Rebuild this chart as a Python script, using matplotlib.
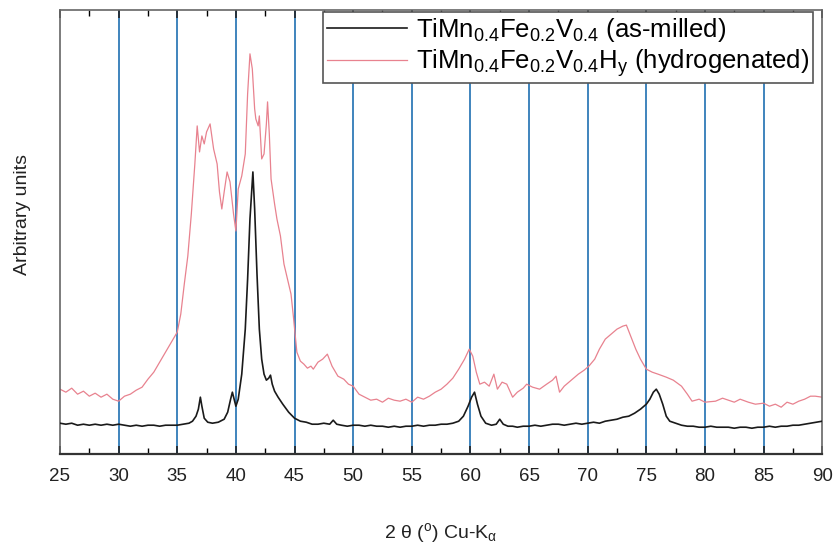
import numpy as np
import matplotlib
matplotlib.use("Agg")
from matplotlib import pyplot as plt
from matplotlib.ticker import MultipleLocator

plt.rcParams['font.family'] = ['Liberation Sans', 'DejaVu Sans']
plt.rcParams['mathtext.fontset'] = 'custom'
plt.rcParams['mathtext.rm'] = 'Liberation Sans'
plt.rcParams['mathtext.it'] = 'Liberation Sans'

# hydrogenated sample (pink)
hyd_2theta = [25.0, 25.5, 26.0, 26.5, 27.0, 27.5, 28.0, 28.5, 29.0, 29.5, 30.0, 30.5, 31.0, 31.5,
              32.0, 32.5, 33.0, 33.5, 34.0, 34.5, 35.0, 35.3, 35.6, 35.9, 36.2, 36.5, 36.7, 36.9,
              37.1, 37.3, 37.5, 37.8, 38.1, 38.4, 38.6, 38.8, 39.0, 39.25, 39.5, 39.8, 40.0, 40.2,
              40.5, 40.8, 41.0, 41.2, 41.4, 41.6, 41.7, 41.9, 42.0, 42.2, 42.4, 42.6, 42.7, 42.85,
              43.0, 43.3, 43.5, 43.8, 44.1, 44.4, 44.7, 44.9, 45.2, 45.5, 45.8, 46.1, 46.4, 46.6,
              47.0, 47.4, 47.8, 48.2, 48.7, 49.2, 49.6, 50.0, 50.5, 51.0, 51.5, 52.0, 52.5, 53.0,
              53.5, 54.0, 54.5, 55.0, 55.5, 56.0, 56.5, 57.0, 57.5, 58.0, 58.5, 59.0, 59.5, 59.9,
              60.2, 60.5, 60.8, 61.2, 61.6, 62.0, 62.3, 62.7, 63.1, 63.6, 64.0, 64.5, 64.8, 65.3,
              65.9, 66.5, 67.0, 67.3, 67.6, 68.0, 68.7, 69.2, 69.7, 70.1, 70.6, 71.0, 71.5, 72.0,
              72.5, 73.0, 73.3, 73.6, 74.1, 74.5, 75.0, 75.5, 76.0, 76.7, 77.3, 78.0, 78.5, 78.9,
              79.5, 80.0, 80.9, 81.5, 82.0, 82.5, 83.0, 83.7, 84.3, 85.0, 85.5, 86.0, 86.5, 87.0,
              87.5, 88.0, 88.5, 89.0, 89.4, 90.0]
hyd_int = [65, 62, 66, 60, 63, 58, 61, 57, 60, 55, 53, 58, 60, 64,
           67, 75, 82, 92, 102, 112, 122, 140, 170, 198, 240, 290, 328, 302,
           318, 310, 322, 330, 305, 290, 262, 245, 262, 282, 272, 240, 223, 265,
           278, 300, 360, 400, 385, 345, 335, 328, 338, 295, 300, 330, 352, 320,
           275, 250, 235, 218, 190, 175, 160, 138, 102, 93, 90, 86, 88, 85,
           92, 95, 100, 88, 78, 75, 70, 68, 60, 57, 54, 55, 52, 56,
           54, 53, 55, 52, 57, 55, 58, 62, 65, 70, 76, 85, 95, 105,
           98, 82, 70, 72, 68, 80, 65, 72, 70, 57, 62, 66, 70, 67,
           65, 70, 74, 78, 62, 68, 75, 80, 84, 88, 95, 105, 115, 120,
           125, 128, 129, 120, 105, 95, 85, 82, 80, 77, 74, 68, 60, 53,
           55, 52, 53, 56, 54, 52, 55, 52, 50, 51, 48, 50, 47, 52,
           50, 53, 55, 58, 58, 57]

# as-milled sample (black)
mil_2theta = [25.0, 25.5, 26.0, 26.5, 27.0, 27.5, 28.0, 28.5, 29.0, 29.5, 30.0, 30.5, 31.0, 31.5,
              32.0, 32.5, 33.0, 33.5, 34.0, 34.5, 35.0, 35.5, 36.0, 36.3, 36.6, 36.8, 36.97, 37.1,
              37.3, 37.6, 38.0, 38.5, 39.0, 39.3, 39.55, 39.7, 39.85, 40.0, 40.2, 40.5, 40.8, 41.0,
              41.2, 41.45, 41.6, 41.8, 42.0, 42.2, 42.4, 42.6, 42.8, 42.95, 43.1, 43.3, 43.6, 44.0,
              44.5, 45.0, 45.5, 46.0, 46.5, 47.0, 47.5, 48.0, 48.3, 48.6, 49.0, 49.5, 50.0, 50.5,
              51.0, 51.5, 52.0, 52.5, 53.0, 53.5, 54.0, 54.5, 55.0, 55.5, 56.0, 56.5, 57.0, 57.5,
              58.0, 58.5, 59.0, 59.4, 59.8, 60.1, 60.35, 60.6, 60.9, 61.3, 61.8, 62.2, 62.5, 62.8,
              63.2, 63.6, 64.0, 64.5, 65.0, 65.5, 66.0, 66.5, 67.0, 67.5, 68.0, 68.5, 69.0, 69.5,
              70.0, 70.5, 71.0, 71.5, 72.0, 72.5, 73.0, 73.5, 74.0, 74.5, 75.0, 75.3, 75.6, 75.85,
              76.1, 76.4, 76.7, 77.0, 77.5, 78.0, 78.5, 79.0, 79.5, 80.0, 80.5, 81.0, 81.5, 82.0,
              82.5, 83.0, 83.5, 84.0, 84.5, 85.0, 85.5, 86.0, 86.5, 87.0, 87.5, 88.0, 88.5, 89.0,
              89.5, 90.0]
mil_int = [31, 30, 31, 29, 30, 29, 30, 29, 30, 29, 30, 29, 28, 29,
           28, 29, 29, 28, 29, 29, 29, 30, 31, 33, 38, 45, 57, 48,
           36, 32, 31, 32, 35, 42, 55, 62, 55, 48, 55, 80, 125, 175,
           235, 282, 245, 180, 125, 95, 80, 74, 76, 79, 70, 63, 57, 50,
           42, 36, 33, 32, 30, 30, 31, 30, 34, 30, 29, 28, 29, 29,
           28, 29, 28, 28, 27, 28, 27, 28, 28, 29, 28, 29, 29, 30,
           30, 31, 33, 38, 48, 57, 62, 50, 38, 31, 29, 30, 35, 30,
           28, 28, 27, 28, 28, 29, 28, 29, 30, 30, 29, 30, 31, 30,
           31, 32, 31, 33, 34, 35, 37, 38, 41, 45, 50, 55, 62, 65,
           60, 50, 38, 33, 31, 29, 28, 28, 27, 27, 28, 27, 27, 27,
           26, 27, 27, 26, 27, 27, 28, 27, 28, 28, 29, 29, 30, 31,
           32, 33]

grid_pos = [30, 35, 40, 45, 50, 55, 60, 65, 70, 75, 80, 85]
lab_milled = r'TiMn$_{0.4}$Fe$_{0.2}$V$_{0.4}$ (as-milled)'
lab_hyd = r'TiMn$_{0.4}$Fe$_{0.2}$V$_{0.4}$H$_{y}$ (hydrogenated)'

fig = plt.figure(figsize=(8.39, 5.44), dpi=100)
ax = fig.add_axes([0.0715, 0.165, 0.9085, 0.817])

for g in grid_pos:
    ax.axvline(g, color='#1f6fb2', lw=1.2, zorder=1)

ax.plot(mil_2theta, mil_int, color='#1a1a1a', lw=1.2, label=lab_milled, zorder=3)
ax.plot(hyd_2theta, hyd_int, color='#e8828f', lw=0.9, label=lab_hyd, zorder=2)

ax.set_xlim(25, 90)
ax.set_ylim(0, 444)
ax.set_yticks([])
ax.xaxis.set_major_locator(MultipleLocator(5))
ax.xaxis.set_minor_locator(MultipleLocator(2.5))
ax.tick_params(axis='x', which='major', direction='in', length=6, width=1.2,
               top=True, labelsize=13.5, pad=10, colors='#222222')
ax.tick_params(axis='x', which='minor', direction='in', length=4, width=1.0, top=True)
for s in ax.spines.values():
    s.set_color('#666666')
    s.set_linewidth(1.2)
ax.spines['bottom'].set_color('#333333')
ax.spines['bottom'].set_linewidth(1.6)

ax.set_xlabel(r'2 $\theta$ ($^{\rm o}$) Cu-K$_{\alpha}$', fontsize=14, labelpad=26, color='#222222')
ax.set_ylabel('Arbitrary units', fontsize=14, color='#222222')
ax.yaxis.set_label_coords(-0.038, 0.54)

leg = ax.legend(loc='upper right', bbox_to_anchor=(0.988, 0.994), fontsize=18.5,
                frameon=True, fancybox=False, edgecolor='#555555', framealpha=1,
                handlelength=3.1, borderpad=0.15, labelspacing=0.12, handletextpad=0.35,
                borderaxespad=0)
leg.get_frame().set_linewidth(1.2)

fig.savefig('out.png', dpi=100)
